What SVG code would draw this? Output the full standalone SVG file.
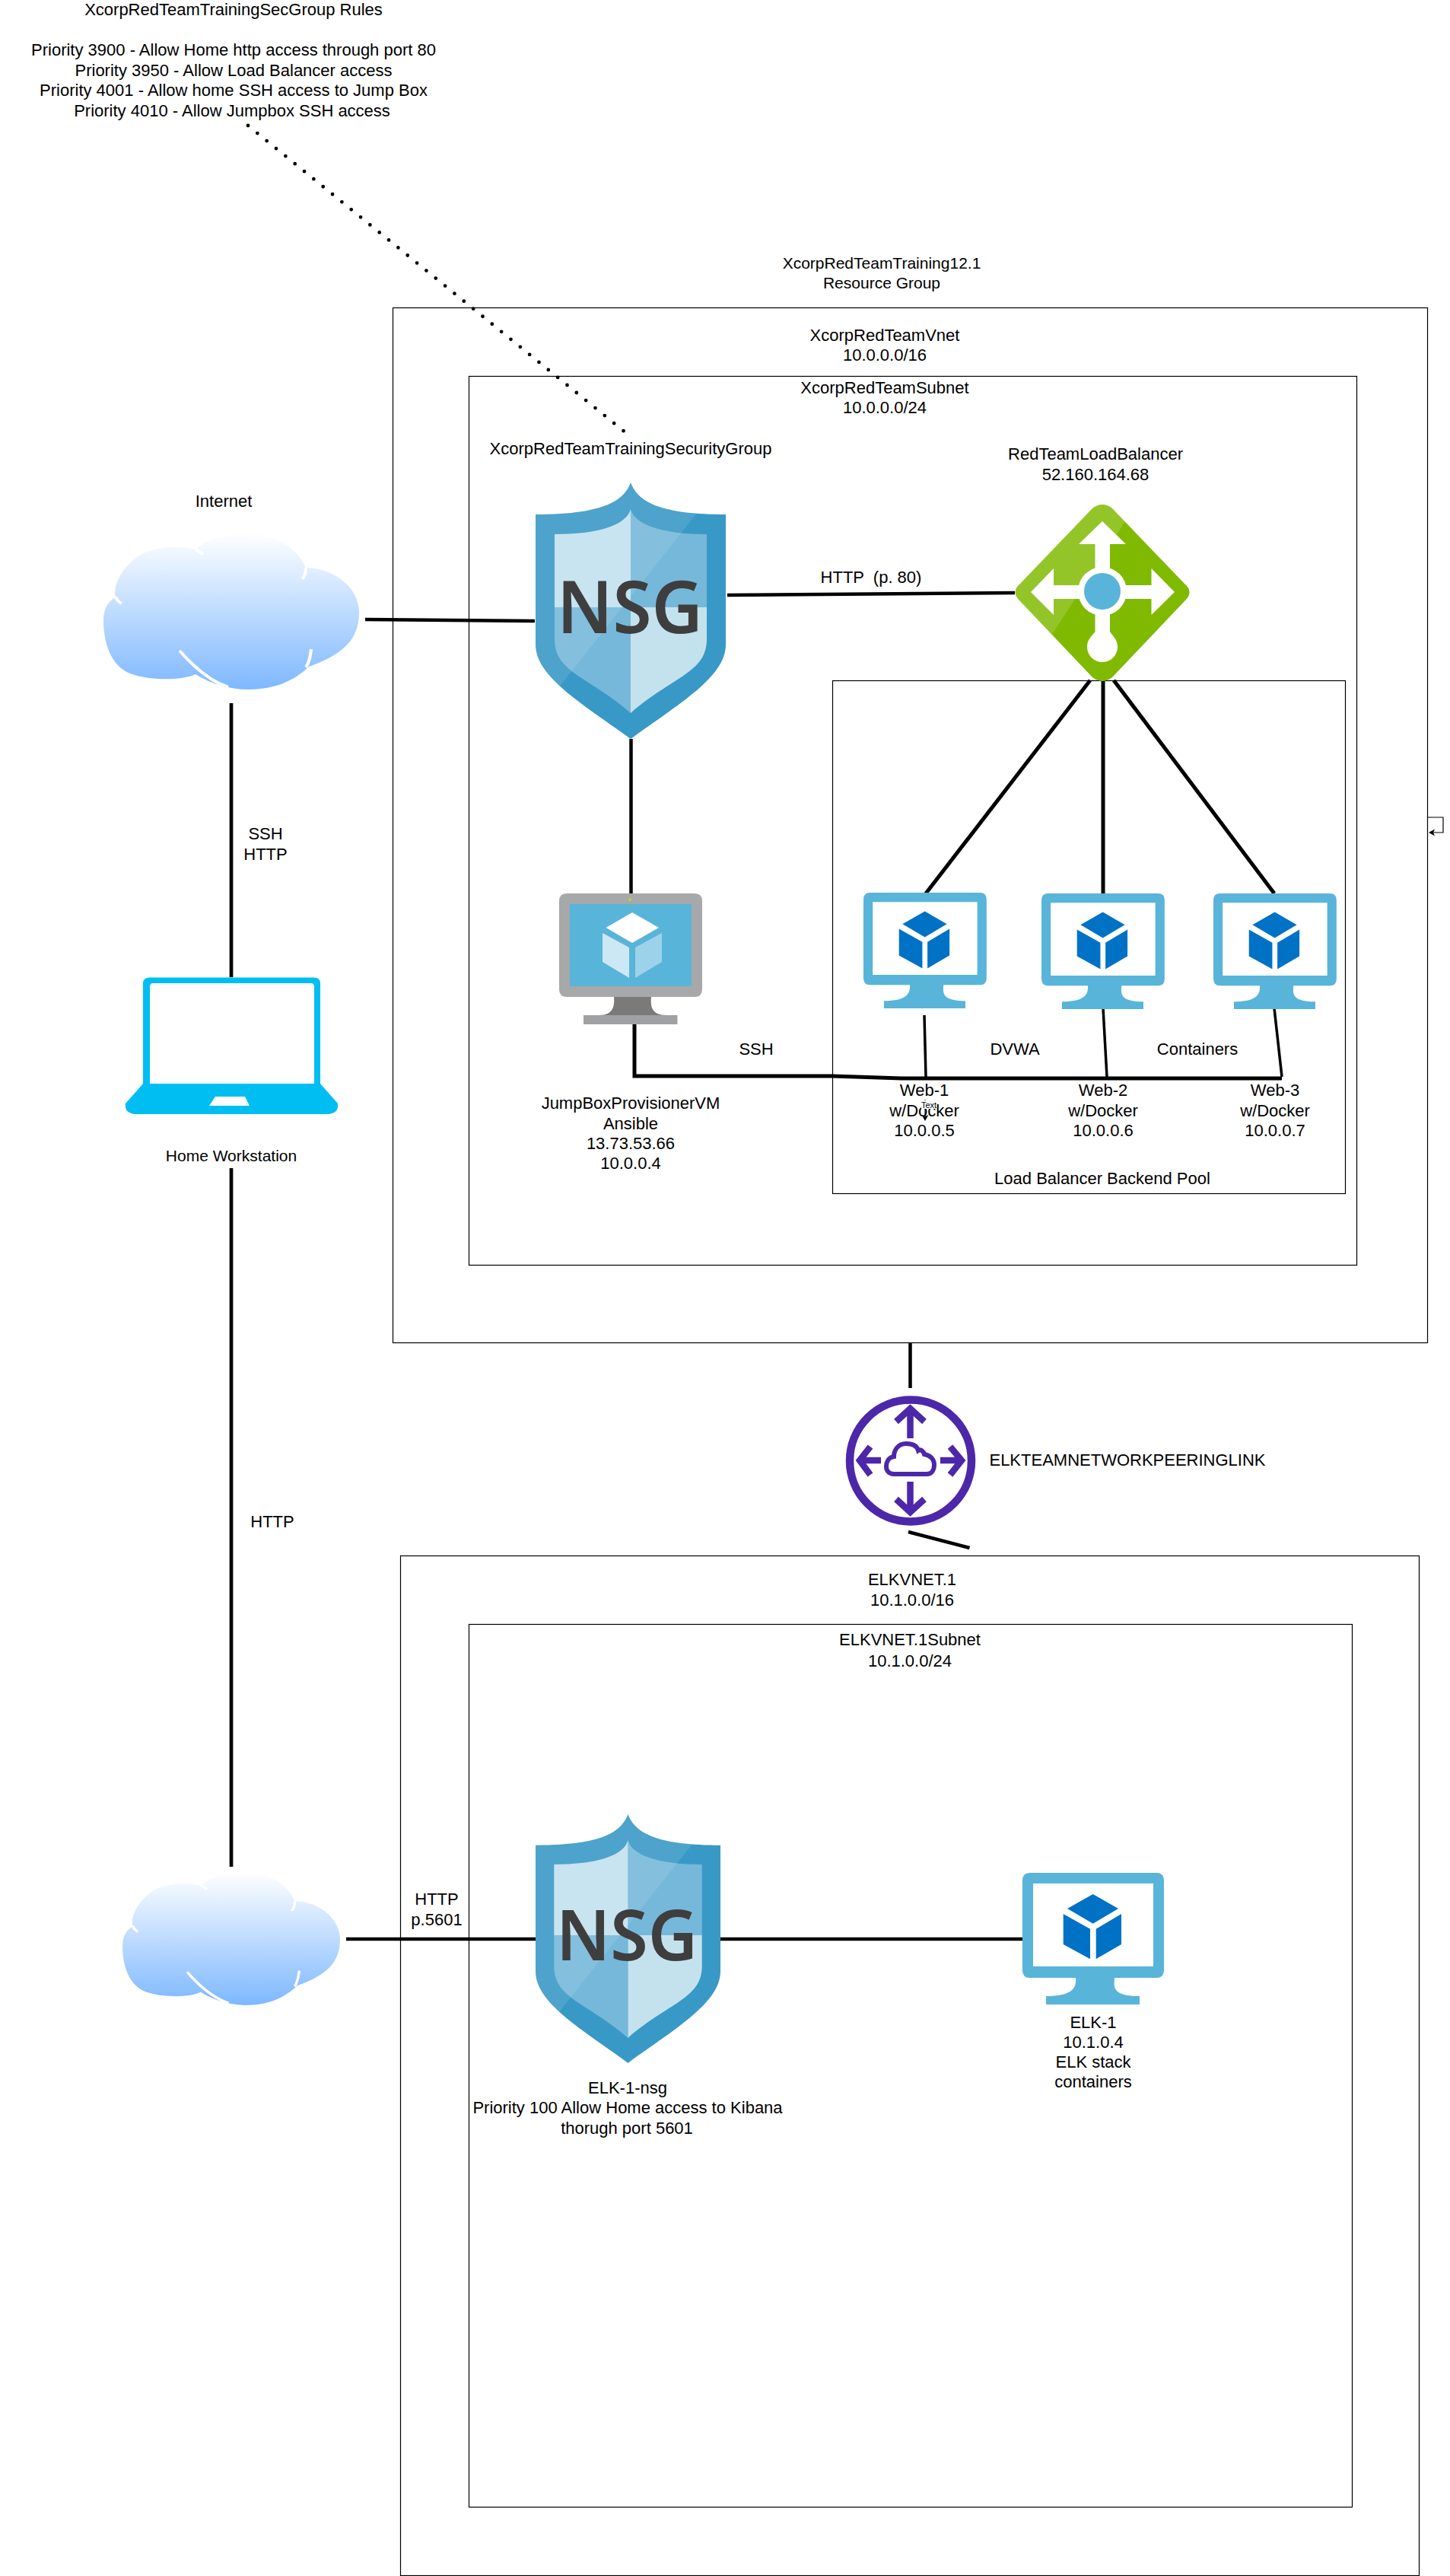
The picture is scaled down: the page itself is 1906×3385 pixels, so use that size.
<svg xmlns="http://www.w3.org/2000/svg" xmlns:xlink="http://www.w3.org/1999/xlink" width="1906" height="3385" viewBox="0 0 1906 3385">
<style>
text{font-family:"Liberation Sans",Arial,sans-serif;font-size:22px;fill:#000;text-anchor:middle}
text.sm{font-size:21px}
text.nsg{font-family:"Noto Sans","Open Sans",sans-serif;font-weight:600;fill:#3e3e3e;font-size:95px}
text.nsg2{font-size:92px}
.box{fill:none;stroke:#000;stroke-width:1.2}
.c{fill:none;stroke:#000;stroke-width:4.5}
.t{fill:none;stroke:#000;stroke-width:3.5}
.mon{fill:#59b4d9}
.cube{fill:#0072c6}
.pe{fill:none;stroke:#4d27aa;stroke-width:8.5}
</style>
<defs>
<linearGradient id="cg" x1="0" y1="0" x2="0" y2="1"><stop offset="0" stop-color="#ffffff"/><stop offset="1" stop-color="#7eb8ff"/></linearGradient>
<marker id="arr" markerWidth="8" markerHeight="10" refX="6" refY="4.5" orient="auto" markerUnits="userSpaceOnUse"><path d="M0,0 L8,4.500 L0,9 L2,4.500 Z" fill="#000"/></marker>
<clipPath id="shc"><path d="M125,0 C135,28 170,42 250,42 V213 C250,255 190,290 125,337 C60,290 0,255 0,213 V42 C80,42 115,28 125,0 Z"/></clipPath>
<clipPath id="lbc"><path d="M1462,668 L1557,767 Q1570,778 1557,790 L1462,890 Q1449,900 1436,890 L1341,790 Q1328,778 1341,767 L1436,668 Q1449,658 1462,668 Z"/></clipPath>
<g id="shield">
<path d="M125,0 C135,28 170,42 250,42 V213 C250,255 190,290 125,337 C60,290 0,255 0,213 V42 C80,42 115,28 125,0 Z" fill="#3999c6"/>
<path d="M125,35 C130,55 165,68 225,68 V164 H125 Z" fill="#76b8da"/>
<path d="M125,35 C120,55 85,68 25,68 V164 H125 Z" fill="#c2e1f0"/>
<path d="M25,164 H125 V303 C70,255 25,250 25,206 Z" fill="#76b8da"/>
<path d="M225,164 H125 V303 C180,255 225,250 225,206 Z" fill="#c4e2ee"/>
<path d="M244,0 L-23,337 H-23 V0 Z" fill="#fff" opacity=".1" clip-path="url(#shc)"/>
</g>
<g id="cloud">
<path d="M16,85 C12,72 22,45 50,28 C70,18 100,16 121,22 C135,8 165,0 190,0 C225,0 255,20 266,46 C300,46 336,70 336,105 C336,140 315,160 270,176 C250,195 225,206 190,206 C165,206 140,198 121,186 C100,195 60,194 35,185 C10,175 0,145 0,115 C0,100 6,90 16,85 Z" fill="url(#cg)"/>
<path d="M16,84 C17,88 20,91 24,93 M121,22 C125,24 128,26 131,28 M266,46 C266,52 264,58 261,61 M100,155 C120,178 140,195 164,203 M273,153 C272,162 271,170 266,177" fill="none" stroke="#fff" stroke-width="4"/>
</g>
<g id="monitor">
<path class="mon" d="M10,0 H176 Q186,0 186,10 V128 Q186,138 176,138 H121 C120,150 118,162 154,162 V173 H31 V162 C67,162 71,150 70,138 H10 Q0,138 0,128 V10 Q0,0 10,0 Z"/>
<rect x="14" y="14" width="158" height="109" fill="#fff"/>
<path class="cube" d="M92.7,28 L126,47 L92.7,66.7 L59,47 Z M53.7,54 L89,73.7 V113.3 L53.7,94 Z M96.7,73.7 L130,54 V94 L96.7,113.3 Z"/>
</g>
</defs>
<rect width="1906" height="3385" fill="#fff"/>

<g id="group-boxes">
<rect id="resource-group" class="box" x="516.5" y="404.5" width="1360" height="1360"/>
<rect id="vnet-subnet" class="box" x="616.5" y="494.5" width="1167" height="1168"/>
<rect id="backend-pool" class="box" x="1094.5" y="894.5" width="674" height="674"/>
<rect id="elk-vnet" class="box" x="526.5" y="2044.5" width="1339" height="1340"/>
<rect id="elk-subnet" class="box" x="616.5" y="2134.5" width="1161" height="1160"/>
</g>

<g id="connectors">
<path d="M326,165 L823,569" fill="none" stroke="#000" stroke-width="4.800" stroke-linecap="round" stroke-dasharray="0 15.9"/>
<path class="c" d="M480,814 L703,816"/>
<path class="c" d="M956,782 L1334,779"/>
<path class="c" d="M829.5,971 V1174"/>
<path class="c" style="stroke-width:5" d="M1433,894 L1217,1174"/>
<path class="c" style="stroke-width:5" d="M1450,894 V1174"/>
<path class="c" style="stroke-width:5" d="M1464,894 L1675,1174"/>
<path d="M834,1345 V1414 H1094 L1185,1417 H1685" fill="none" stroke="#000" stroke-width="5"/>
<path class="t" d="M1215,1334 L1217,1415"/>
<path class="t" d="M1450,1325 L1455,1415"/>
<path class="t" d="M1675,1325 L1685,1415"/>
<path d="M304,924 V1284" fill="none" stroke="#000" stroke-width="4.7"/>
<path d="M304,1535 V2453" fill="none" stroke="#000" stroke-width="4.7"/>
<path class="c" d="M455,2548 H704"/>
<path class="c" d="M947,2548 H1344"/>
<path class="c" d="M1196.5,1764 V1824"/>
<path class="c" d="M1194,2013 L1274.5,2034"/>
<path d="M1877,1074 H1897 V1094 H1880" fill="none" stroke="#000" stroke-width="1.2" marker-end="url(#arr)"/>
</g>

<g id="cloud-internet"><use xlink:href="#cloud" href="#cloud" transform="translate(136,700)"/><text x="294" y="666">Internet</text></g>
<g id="cloud-elk"><use xlink:href="#cloud" href="#cloud" transform="translate(161,2459) scale(.851,.854)"/></g>

<g id="laptop">
<path d="M197,1284.5 H412 Q421,1284.5 421,1292 V1424 L444,1450 Q446,1464 428,1464 H181 Q163,1464 165,1450 L188,1424 V1292 Q188,1284.5 197,1284.5 Z" fill="#00bef2"/>
<path d="M201,1292 H409 Q413,1292 413,1297 V1424 H197 V1297 Q197,1292 201,1292 Z" fill="#fff"/>
<path d="M283,1441 H322 L328,1453 H275 Z" fill="#fff"/>
<text class="sm" x="304" y="1526">Home Workstation</text>
</g>

<g id="nsg-main">
<use xlink:href="#shield" href="#shield" transform="translate(704,634)"/>
<text class="nsg" x="828" y="832" textLength="192" lengthAdjust="spacingAndGlyphs">NSG</text>
</g>
<g id="nsg-elk">
<use xlink:href="#shield" href="#shield" transform="translate(704,2384) scale(.972,.97)"/>
<text class="nsg nsg2" x="824" y="2576" textLength="186" lengthAdjust="spacingAndGlyphs">NSG</text>
</g>

<g id="load-balancer">
<path d="M1462,668 L1557,767 Q1570,778 1557,790 L1462,890 Q1449,900 1436,890 L1341,790 Q1328,778 1341,767 L1436,668 Q1449,658 1462,668 Z" fill="#7fba00"/>
<path d="M1534,600 L1340,900 H1300 V600 Z" fill="#fff" opacity=".16" clip-path="url(#lbc)"/>
<path d="M1449,685 L1480,715 H1459 V830 C1462,835 1469,840 1469,850 A20,20 0 0 1 1429,850 C1429,840 1436,835 1439.5,830 V715 H1418 Z" fill="#fff"/>
<path d="M1355,778 L1385,747 V769 H1513.5 V747 L1544,778 L1513.5,808 V787 H1385 V808 Z" fill="#fff"/>
<circle cx="1449" cy="777" r="32" fill="#fff"/>
<circle cx="1449" cy="777" r="24" fill="#59b4d9"/>
</g>

<g id="jumpbox">
<path d="M745,1174 H913 Q923,1174 923,1184 V1300 Q923,1310 913,1310 H745 Q735,1310 735,1300 V1184 Q735,1174 745,1174 Z" fill="#a7a8a9"/>
<rect x="749" y="1188" width="160" height="108" fill="#59b4d9"/>
<path d="M807,1310 H856 C855,1322 856,1334 876,1334 H788 C806,1334 808,1322 807,1310 Z" fill="#7a7a7a"/>
<rect x="767" y="1334" width="123.500" height="12" fill="#a0a1a2"/>
<circle cx="828" cy="1182" r="2" fill="#b8d432"/>
<path d="M831,1199 L866,1219 L831,1239 L796.500,1219 Z" fill="#fff"/>
<path d="M792,1226 L827,1245 V1285 L792,1264 Z" fill="#cce8f4"/>
<path d="M835,1245 L870,1226 V1264 L835,1285 Z" fill="#9cd3ea"/>
</g>

<g id="web-1"><use xlink:href="#monitor" href="#monitor" transform="translate(1135,1173) scale(.87,.878)"/></g>
<g id="web-2"><use xlink:href="#monitor" href="#monitor" transform="translate(1369,1174) scale(.87,.878)"/></g>
<g id="web-3"><use xlink:href="#monitor" href="#monitor" transform="translate(1595,1174) scale(.87,.878)"/></g>
<g id="elk-1"><use xlink:href="#monitor" href="#monitor" transform="translate(1344,2461)"/></g>

<g id="peering">
<circle cx="1197" cy="1919.500" r="80" fill="none" stroke="#4d27aa" stroke-width="10.500"/>
<path class="pe" d="M1196.500,1890 V1852 M1178,1868 L1196.500,1851 L1215,1868 M1196.500,1947 V1986 M1178,1970 L1196.500,1987 L1215,1970 M1158,1919 H1131 M1144,1901 L1130,1919 L1144,1938 M1236,1919 H1263 M1249,1901 L1264,1919 L1249,1938"/>
<path d="M1175,1937 H1218 C1226,1937 1228,1930 1228,1925 C1228,1917 1222,1912 1215,1911 C1214,1907 1210,1904 1207,1906 C1205,1899 1198,1897 1191,1897 C1181,1897 1175,1905 1175,1914 C1168,1915 1165,1921 1165,1927 C1165,1932 1168,1937 1175,1937 Z" fill="none" stroke="#4d27aa" stroke-width="6"/>
</g>

<g id="labels">
<text x="307" y="20">XcorpRedTeamTrainingSecGroup Rules</text>
<text x="307" y="73">Priority 3900 - Allow Home http access through port 80</text>
<text x="307" y="99.500">Priority 3950 - Allow Load Balancer access</text>
<text x="307" y="126">Priority 4001 - Allow home SSH access to Jump Box</text>
<text x="305" y="152.500">Priority 4010 - Allow Jumpbox SSH access</text>
<text class="sm" x="1159" y="353">XcorpRedTeamTraining12.1</text>
<text class="sm" x="1159" y="379">Resource Group</text>
<text x="1163" y="448">XcorpRedTeamVnet</text>
<text x="1163" y="474">10.0.0.0/16</text>
<text x="1163" y="517">XcorpRedTeamSubnet</text>
<text x="1163" y="543">10.0.0.0/24</text>
<text x="829" y="597">XcorpRedTeamTrainingSecurityGroup</text>
<text x="1440" y="604">RedTeamLoadBalancer</text>
<text x="1440" y="631">52.160.164.68</text>
<text x="1145" y="766" xml:space="preserve">HTTP  (p. 80)</text>
<text x="349" y="1103">SSH</text>
<text x="349" y="1130">HTTP</text>
<text x="358" y="2007">HTTP</text>
<text x="994" y="1386">SSH</text>
<text x="1334" y="1386">DVWA</text>
<text x="1574" y="1386">Containers</text>
<text x="829" y="1457">JumpBoxProvisionerVM</text>
<text x="829" y="1484">Ansible</text>
<text x="829" y="1510">13.73.53.66</text>
<text x="829" y="1536">10.0.0.4</text>
<text x="1215" y="1440">Web-1</text>
<text x="1215" y="1467">w/Docker</text>
<text x="1215" y="1493">10.0.0.5</text>
<g id="web-1-edge-label">
<path d="M1216,1445 V1471" fill="none" stroke="#000" stroke-width="1" marker-end="url(#arr)"/>
<rect x="1211" y="1446" width="20" height="11" fill="#fff"/>
<text x="1221" y="1455.500" style="font-size:11px">Text</text>
</g>
<text x="1450" y="1440">Web-2</text>
<text x="1450" y="1467">w/Docker</text>
<text x="1450" y="1493">10.0.0.6</text>
<text x="1676" y="1440">Web-3</text>
<text x="1676" y="1467">w/Docker</text>
<text x="1676" y="1493">10.0.0.7</text>
<text x="1449" y="1556">Load Balancer Backend Pool</text>
<text x="1482" y="1926">ELKTEAMNETWORKPEERINGLINK</text>
<text x="1199" y="2083">ELKVNET.1</text>
<text x="1199" y="2110">10.1.0.0/16</text>
<text x="1196" y="2162">ELKVNET.1Subnet</text>
<text x="1196" y="2190">10.1.0.0/24</text>
<text x="574" y="2503">HTTP</text>
<text x="574" y="2530">p.5601</text>
<text x="825" y="2751">ELK-1-nsg</text>
<text x="825" y="2777">Priority 100 Allow Home access to Kibana</text>
<text x="824" y="2804">thorugh port 5601</text>
<text x="1437" y="2665">ELK-1</text>
<text x="1437" y="2691">10.1.0.4</text>
<text x="1437" y="2717">ELK stack</text>
<text x="1437" y="2743">containers</text>
</g>
</svg>
